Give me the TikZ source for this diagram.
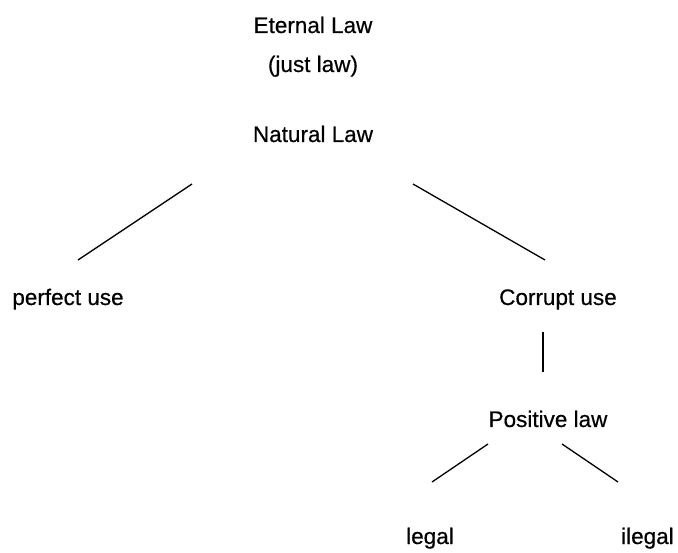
\documentclass[tikz,border=0pt]{standalone}
\usepackage{fontspec}
\setmainfont{Liberation Sans}
\newfontfamily\labelfont[FakeBold=0.5]{Liberation Sans}
\begin{document}
\begin{tikzpicture}[x=1pt,y=-1pt,
  lbl/.style={font=\labelfont\fontsize{22.5}{26}\selectfont, inner sep=0pt, anchor=base},
  branch/.style={line width=1.3pt, black}]
\useasboundingbox (0,0) rectangle (678,553);
\node[lbl] (eternal) at (313,33) {Eternal Law};
\node[lbl] (just) at (313,72) {(just law)};
\node[lbl] (natural) at (313,142) {Natural Law};
\node[lbl] (perfect) at (68,305) {perfect use};
\node[lbl] (corrupt) at (558,305) {Corrupt use};
\node[lbl] (positive) at (548,427) {Positive law};
\node[lbl] (legal) at (430,544) {legal};
\node[lbl, anchor=base west] (ilegal) at (621,544) {ilegal};
\coordinate (nl1) at (192,184);
\coordinate (pu1) at (78,260);
\coordinate (nl2) at (413,184);
\coordinate (cu1) at (545,260);
\coordinate (cu2) at (543,332);
\coordinate (pl1) at (543,372);
\coordinate (pl2) at (488,444);
\coordinate (lg1) at (432,482);
\coordinate (pl3) at (562,444);
\coordinate (il1) at (618,482);
\draw[branch] (nl1) -- (pu1);
\draw[branch] (nl2) -- (cu1);
\draw[branch] (cu2) -- (pl1);
\draw[branch] (pl2) -- (lg1);
\draw[branch] (pl3) -- (il1);
\end{tikzpicture}
\end{document}
